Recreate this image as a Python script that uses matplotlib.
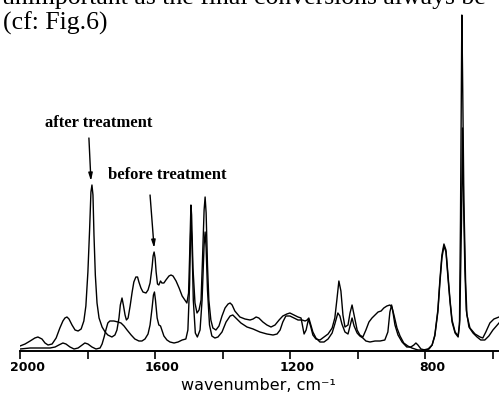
import matplotlib
matplotlib.use("Agg")
import matplotlib.pyplot as plt
from matplotlib.ticker import FixedLocator, NullFormatter
from matplotlib.transforms import ScaledTranslation

# IR spectrum after treatment (wavenumber in cm-1, absorbance in arbitrary units)
after_wn = [2000, 1985, 1970, 1956, 1947, 1935, 1926, 1917, 1905, 1893, 1882, 1873, 1867,
            1861, 1855, 1846, 1837, 1828, 1819, 1811, 1805, 1799, 1794, 1790, 1787, 1784,
            1781, 1777, 1772, 1766, 1757, 1748, 1740, 1728, 1719, 1713, 1707, 1703, 1698,
            1694, 1689, 1685, 1680, 1674, 1668, 1663, 1657, 1652, 1648, 1642, 1636, 1627,
            1621, 1615, 1609, 1606, 1603, 1600, 1597, 1593, 1589, 1584, 1580, 1574, 1568,
            1559, 1553, 1547, 1538, 1529, 1520, 1512, 1506, 1501, 1498, 1495, 1494, 1492,
            1488, 1482, 1476, 1470, 1464, 1460, 1455, 1452, 1449, 1445, 1441, 1435, 1429,
            1420, 1411, 1402, 1393, 1384, 1378, 1372, 1364, 1349, 1334, 1319, 1310, 1301,
            1293, 1281, 1269, 1257, 1245, 1233, 1222, 1210, 1201, 1189, 1177, 1168, 1164,
            1159, 1153, 1146, 1139, 1133, 1124, 1112, 1100, 1088, 1076, 1068, 1062, 1056,
            1050, 1044, 1038, 1029, 1023, 1017, 1011, 1002, 994, 985, 976, 967, 958, 949,
            940, 931, 923, 914, 905, 899, 893, 884, 875, 864, 852, 840, 822, 807, 792, 780,
            772, 763, 757, 751, 745, 739, 733, 727, 721, 712, 703, 699, 696, 693, 692, 690,
            686, 681, 677, 668, 653, 638, 630, 621, 609, 597, 582]
after_abs = [0.05, 0.07, 0.10, 0.13, 0.14, 0.12, 0.08, 0.06, 0.07, 0.13, 0.23, 0.30, 0.33,
             0.34, 0.32, 0.26, 0.21, 0.20, 0.22, 0.30, 0.45, 0.79, 1.21, 1.59, 1.66, 1.56,
             1.16, 0.76, 0.48, 0.33, 0.24, 0.19, 0.16, 0.14, 0.16, 0.21, 0.33, 0.46, 0.53,
             0.46, 0.36, 0.31, 0.33, 0.45, 0.59, 0.69, 0.74, 0.74, 0.69, 0.63, 0.59, 0.58,
             0.61, 0.68, 0.84, 0.95, 0.99, 0.93, 0.79, 0.67, 0.66, 0.70, 0.68, 0.68, 0.71,
             0.75, 0.76, 0.75, 0.70, 0.63, 0.55, 0.51, 0.48, 0.58, 0.93, 1.36, 1.46, 1.36,
             0.83, 0.48, 0.38, 0.41, 0.51, 0.89, 1.41, 1.54, 1.38, 0.86, 0.51, 0.31, 0.23,
             0.21, 0.25, 0.35, 0.43, 0.47, 0.48, 0.46, 0.40, 0.34, 0.32, 0.31, 0.32, 0.34,
             0.33, 0.29, 0.26, 0.24, 0.26, 0.31, 0.35, 0.37, 0.38, 0.36, 0.34, 0.33, 0.26,
             0.17, 0.21, 0.32, 0.24, 0.16, 0.12, 0.11, 0.14, 0.17, 0.23, 0.33, 0.51, 0.70,
             0.60, 0.36, 0.24, 0.26, 0.38, 0.46, 0.36, 0.21, 0.16, 0.14, 0.21, 0.29, 0.33, 0.36,
             0.39, 0.40, 0.43, 0.45, 0.46, 0.44, 0.36, 0.23, 0.15, 0.08, 0.05, 0.03, 0.01, 0.01,
             0.02, 0.06, 0.16, 0.41, 0.71, 0.96, 1.07, 1.01, 0.76, 0.51, 0.31, 0.19, 0.15, 0.26,
             1.31, 2.81, 3.36, 2.81, 1.51, 0.71, 0.36, 0.23, 0.17, 0.14, 0.13, 0.19, 0.28, 0.32,
             0.34]

# IR spectrum before treatment
before_wn = [2000, 1970, 1941, 1911, 1896, 1885, 1873, 1864, 1852, 1840, 1828, 1816, 1808,
             1799, 1787, 1775, 1763, 1757, 1751, 1745, 1740, 1734, 1722, 1710, 1701, 1692,
             1683, 1671, 1660, 1648, 1639, 1630, 1621, 1615, 1609, 1605, 1602, 1599, 1594,
             1589, 1584, 1580, 1574, 1565, 1556, 1544, 1532, 1520, 1509, 1503, 1498, 1495,
             1494, 1491, 1487, 1481, 1475, 1467, 1461, 1455, 1452, 1449, 1445, 1439, 1432,
             1423, 1414, 1402, 1390, 1378, 1370, 1361, 1346, 1328, 1310, 1290, 1269, 1251,
             1239, 1230, 1222, 1213, 1201, 1189, 1177, 1165, 1156, 1150, 1145, 1139, 1133,
             1124, 1112, 1100, 1088, 1076, 1068, 1059, 1053, 1047, 1038, 1029, 1023, 1017,
             1011, 1002, 994, 985, 976, 964, 949, 934, 920, 911, 905, 900, 896, 890, 881, 869,
             855, 843, 834, 828, 822, 813, 801, 789, 780, 772, 763, 757, 751, 745, 739, 733,
             727, 721, 712, 703, 698, 693, 690, 687, 683, 679, 671, 659, 647, 636, 624, 612,
             600, 582]
before_abs = [0.02, 0.03, 0.03, 0.03, 0.04, 0.06, 0.08, 0.07, 0.04, 0.02, 0.03, 0.06, 0.08,
              0.07, 0.04, 0.02, 0.03, 0.07, 0.14, 0.22, 0.28, 0.30, 0.30, 0.29, 0.28, 0.25,
              0.21, 0.16, 0.12, 0.10, 0.10, 0.12, 0.17, 0.26, 0.43, 0.56, 0.59, 0.51, 0.33,
              0.26, 0.25, 0.21, 0.15, 0.11, 0.09, 0.08, 0.09, 0.11, 0.12, 0.21, 0.66, 1.16,
              1.26, 1.11, 0.51, 0.18, 0.14, 0.21, 0.51, 1.06, 1.19, 1.03, 0.61, 0.26, 0.15,
              0.13, 0.14, 0.19, 0.29, 0.35, 0.36, 0.33, 0.28, 0.24, 0.22, 0.19, 0.17, 0.16,
              0.17, 0.21, 0.29, 0.35, 0.35, 0.33, 0.31, 0.31, 0.30, 0.31, 0.33, 0.26, 0.19,
              0.13, 0.09, 0.09, 0.12, 0.18, 0.27, 0.38, 0.35, 0.27, 0.19, 0.17, 0.25, 0.33,
              0.25, 0.18, 0.15, 0.13, 0.10, 0.09, 0.10, 0.10, 0.11, 0.19, 0.39, 0.46, 0.39,
              0.26, 0.16, 0.09, 0.04, 0.04, 0.06, 0.08, 0.06, 0.02, 0.01, 0.02, 0.06, 0.15,
              0.39, 0.68, 0.93, 1.05, 0.99, 0.73, 0.49, 0.29, 0.18, 0.14, 0.31, 1.31, 2.23,
              1.51, 0.81, 0.41, 0.24, 0.18, 0.14, 0.11, 0.11, 0.15, 0.21, 0.28]

major_ticks = [2000, 1600, 1200, 800]
minor_ticks = [1800, 1400, 1000, 600]
tick_labels = ["2000", "1600", "1200", "800"]

fig = plt.figure(figsize=(4.99, 3.94), dpi=100)
ax = fig.add_axes([20 / 499, 43 / 394, 479 / 499, 351 / 394])

ax.plot(after_wn, after_abs, color="black", lw=1.0)
ax.plot(before_wn, before_abs, color="black", lw=1.0)

ax.set_xlim(2000, 582)
ax.set_ylim(0, 3.51)

for side in ("left", "right", "top"):
    ax.spines[side].set_visible(False)
ax.spines["bottom"].set_linewidth(1.4)
ax.set_yticks([])

ax.xaxis.set_major_locator(FixedLocator(major_ticks))
ax.xaxis.set_minor_locator(FixedLocator(minor_ticks))
ax.xaxis.set_minor_formatter(NullFormatter())
ax.set_xticklabels(tick_labels, fontsize=9, fontweight="bold", family="DejaVu Sans")
ax.tick_params(axis="x", which="both", direction="out", length=6, width=1.2, pad=1.5)
shift = ScaledTranslation(7 / 100, 0, fig.dpi_scale_trans)
for lbl in ax.get_xticklabels():
    lbl.set_transform(lbl.get_transform() + shift)

fig.text(258 / 499, 1 - 390 / 394, "wavenumber, cm\u207b\u00b9", fontsize=11.5,
         ha="center", va="baseline", family="DejaVu Sans")

serif = "Liberation Serif"
ax.annotate("", xy=(1790, 1.70), xytext=(1796, 2.13),
            arrowprops=dict(arrowstyle="-|>,head_length=0.45,head_width=0.12",
                            color="black", lw=1.0, shrinkA=0, shrinkB=0))
ax.annotate("", xy=(1603, 1.03), xytext=(1615, 1.56),
            arrowprops=dict(arrowstyle="-|>,head_length=0.45,head_width=0.12",
                            color="black", lw=1.0, shrinkA=0, shrinkB=0))
fig.text(45 / 499, 1 - 127 / 394, "after treatment", fontsize=12, fontweight="bold",
         family=serif, ha="left", va="baseline")
fig.text(108 / 499, 1 - 179 / 394, "before treatment", fontsize=12, fontweight="bold",
         family=serif, ha="left", va="baseline")

fig.text(2 / 499, 1 - 4 / 394, "unimportant as the final conversions always be",
         fontsize=18.5, family=serif, ha="left", va="baseline")
fig.text(3 / 499, 1 - 30 / 394, "(cf: Fig.6)", fontsize=18.5, family=serif,
         ha="left", va="baseline")

fig.savefig("out.png", dpi=100)
